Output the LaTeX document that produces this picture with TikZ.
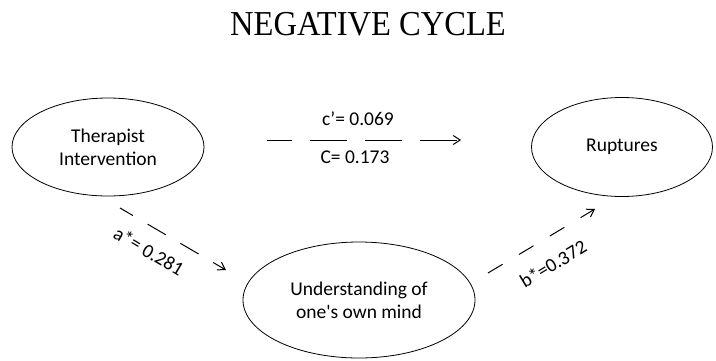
\documentclass[tikz,border=0pt]{standalone}
\usepackage{fontspec}
\setmainfont{Carlito}[Ligatures=TeXOff]
\newfontfamily\titlefont[FakeStretch=0.93]{Liberation Serif}
\usetikzlibrary{arrows.meta,shapes.geometric}
\begin{document}
\begin{tikzpicture}[x=1pt,y=-1pt,
  every node/.style={font=\fontsize{19.5}{23}\selectfont},
  oval/.style={draw, ellipse, line width=0.8pt, inner sep=0pt, align=center},
  patharrow/.style={line width=1pt, -{Straight Barb[length=7pt,width=9pt]}}
]
\useasboundingbox (0,0) rectangle (716,360);
\node[font=\titlefont\fontsize{35}{40}\selectfont, anchor=base] (title) at (368,35) {NEGATIVE CYCLE};

\node[oval, minimum width=192pt, minimum height=98pt] (ti) at (108,147) {Therapist\\Intervention};
\node[oval, minimum width=181pt, minimum height=99pt] (ru) at (622,147) {Ruptures};
\node[oval, minimum width=232pt, minimum height=116pt] (um) at (359,300) {Understanding of\\one's own mind};

\draw[patharrow, dash pattern=on 37pt off 18pt, dash phase=12pt, shorten <=63pt, shorten >=70pt]
  ([yshift=7pt]ti.east) -- ([yshift=7pt]ru.west);
\node (cp) at (358,119) {c’= 0.069};
\node (cc) at (355,157) {C= 0.173};

\coordinate (a1) at (120,208);
\coordinate (a2) at (226,270);
\draw[patharrow, dash pattern=on 21pt off 17pt, dash phase=6pt] (a1) -- (a2);
\node[rotate=-30.6] (al) at (149,251) {a*= 0.281};

\coordinate (b1) at (488,273);
\coordinate (b2) at (595,209);
\draw[patharrow, dash pattern=on 17pt off 19pt] (b1) -- (b2);
\node[rotate=31] (bl) at (553,264) {b*=0.372};
\end{tikzpicture}
\end{document}
